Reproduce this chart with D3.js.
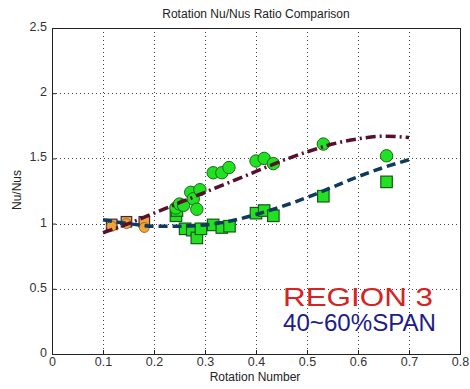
<!DOCTYPE html>
<html>
<head>
<meta charset="utf-8">
<script src="https://cdn.jsdelivr.net/npm/d3@7"></script>
<style>
  html, body { margin: 0; padding: 0; background: #fff; }
  svg { display: block; font-family: Arial, "Liberation Sans", sans-serif; }
</style>
</head>
<body>
<svg id="chart" width="470" height="389"></svg>
<script>
// Rotation number values for each measured group
const orangeX      = [0.117, 0.146, 0.181];
const orangeSqY    = [0.99, 1.01, 1.01];
const orangeCircY  = [0.98, 1.00, 0.97];

const circleX = [0.243, 0.250, 0.258, 0.272, 0.277, 0.284, 0.290, 0.316, 0.333, 0.347, 0.400, 0.416, 0.434, 0.532, 0.656];
const circleY = [1.12, 1.15, 1.14, 1.24, 1.19, 1.11, 1.26, 1.39, 1.39, 1.43, 1.48, 1.50, 1.46, 1.61, 1.52];

const squareX = [0.243, 0.245, 0.261, 0.275, 0.284, 0.292, 0.316, 0.333, 0.348, 0.400, 0.416, 0.434, 0.532, 0.656];
const squareY = [1.06, 1.10, 0.96, 0.95, 0.89, 0.96, 0.99, 0.97, 0.98, 1.08, 1.10, 1.06, 1.21, 1.32];

// Trend curves
const trendX     = [0.10, 0.15, 0.20, 0.25, 0.30, 0.35, 0.40, 0.45, 0.50, 0.55, 0.60, 0.65, 0.70];
const trendUpper = [0.93, 1.00, 1.08, 1.16, 1.24, 1.32, 1.40, 1.48, 1.55, 1.61, 1.65, 1.67, 1.66];
const trendLower = [1.03, 1.00, 0.98, 0.98, 0.99, 1.02, 1.07, 1.13, 1.20, 1.28, 1.36, 1.43, 1.49];

const xTicks = [0, 0.1, 0.2, 0.3, 0.4, 0.5, 0.6, 0.7, 0.8];
const yTicks = [0, 0.5, 1, 1.5, 2, 2.5];

const svg = d3.select("#chart");
const plotL = 52, plotR = 460, plotT = 28, plotB = 354;

const x = d3.scaleLinear().domain([0, 0.8]).range([plotL, plotR]);
const y = d3.scaleLinear().domain([0, 2.5]).range([plotB, plotT]);

// Dotted grid
const grid = svg.append("g").attr("stroke", "#444").attr("stroke-width", 1)
  .attr("stroke-dasharray", "1,3");
grid.selectAll(".vg").data(xTicks.slice(1, -1)).join("line")
  .attr("x1", d => Math.round(x(d)) + 0.5).attr("x2", d => Math.round(x(d)) + 0.5)
  .attr("y1", plotT).attr("y2", plotB);
grid.selectAll(".hg").data(yTicks.slice(1, -1)).join("line")
  .attr("y1", d => Math.round(y(d)) + 0.5).attr("y2", d => Math.round(y(d)) + 0.5)
  .attr("x1", plotL).attr("x2", plotR);

// Axes (ticks pointing inward)
const xAxis = d3.axisBottom(x).tickValues(xTicks).tickSizeInner(-4).tickSizeOuter(0)
  .tickPadding(3).tickFormat(d3.format("~g"));
const yAxis = d3.axisLeft(y).tickValues(yTicks).tickSizeInner(-4).tickSizeOuter(0)
  .tickPadding(5).tickFormat(d3.format("~g"));

const gx = svg.append("g").attr("transform", `translate(0,${plotB})`).call(xAxis);
const gy = svg.append("g").attr("transform", `translate(${plotL},0)`).call(yAxis);
[gx, gy].forEach(g => {
  g.select(".domain").remove();
  g.selectAll(".tick line").attr("stroke", "#222");
  g.selectAll(".tick text").attr("fill", "#333").attr("font-size", 12.5)
    .attr("font-family", "Arial, 'Liberation Sans', sans-serif");
});
gy.selectAll(".tick text").attr("dy", "0.2em");

// Plot frame
svg.append("rect").attr("x", plotL + 0.5).attr("y", plotT + 0.5)
  .attr("width", plotR - plotL).attr("height", plotB - plotT)
  .attr("fill", "none").attr("stroke", "#222").attr("stroke-width", 1);

// Markers
const markers = svg.append("g");
const sq = 11.5, r = 6.2;

markers.selectAll(".gsq").data(d3.zip(squareX, squareY)).join("rect")
  .attr("x", d => x(d[0]) - sq / 2).attr("y", d => y(d[1]) - sq / 2)
  .attr("width", sq).attr("height", sq)
  .attr("fill", "#22e022").attr("stroke", "#145a14").attr("stroke-width", 1.2);

markers.selectAll(".gc").data(d3.zip(circleX, circleY)).join("circle")
  .attr("cx", d => x(d[0])).attr("cy", d => y(d[1])).attr("r", r)
  .attr("fill", "#22e022").attr("stroke", "#1a6a1a").attr("stroke-width", 1);

markers.selectAll(".osq").data(d3.zip(orangeX, orangeSqY)).join("rect")
  .attr("x", d => x(d[0]) - sq / 2 + 0.5).attr("y", d => y(d[1]) - sq / 2)
  .attr("width", sq - 1).attr("height", sq - 1)
  .attr("fill", "#f0a43a").attr("stroke", "#3a2a40").attr("stroke-width", 1.2);

markers.selectAll(".oc").data(d3.zip(orangeX, orangeCircY)).join("circle")
  .attr("cx", d => x(d[0])).attr("cy", d => y(d[1])).attr("r", 5)
  .attr("fill", "#f0a43a").attr("stroke", "#8a5a20").attr("stroke-width", 0.8);

// Trend lines
const line = d3.line().x(d => x(d[0])).y(d => y(d[1])).curve(d3.curveMonotoneX);

svg.append("path").datum(d3.zip(trendX, trendLower))
  .attr("d", line).attr("fill", "none")
  .attr("stroke", "#0e3a5e").attr("stroke-width", 3.5)
  .attr("stroke-dasharray", "9,5");

svg.append("path").datum(d3.zip(trendX, trendUpper))
  .attr("d", line).attr("fill", "none")
  .attr("stroke", "#5a0e2e").attr("stroke-width", 3.5)
  .attr("stroke-dasharray", "10,4,2,4");

// Title and axis labels
svg.append("text").attr("x", 256).attr("y", 18).attr("text-anchor", "middle")
  .attr("font-size", 12).attr("fill", "#222").text("Rotation Nu/Nus Ratio Comparison");

svg.append("text").attr("x", 255).attr("y", 381).attr("text-anchor", "middle")
  .attr("font-size", 12).attr("fill", "#222").text("Rotation Number");

svg.append("text").attr("transform", "translate(21,190) rotate(-90)")
  .attr("text-anchor", "middle").attr("font-size", 12).attr("fill", "#222").text("Nu/Nus");

// Annotation
svg.append("text").attr("x", 283).attr("y", 306)
  .attr("font-size", 26.5).attr("textLength", 150).attr("lengthAdjust", "spacingAndGlyphs")
  .attr("fill", "#d42424").text("REGION 3");
svg.append("text").attr("x", 283).attr("y", 331)
  .attr("font-size", 23).attr("textLength", 153).attr("lengthAdjust", "spacingAndGlyphs")
  .attr("fill", "#1c1c8c").text("40~60%SPAN");
</script>
</body>
</html>
